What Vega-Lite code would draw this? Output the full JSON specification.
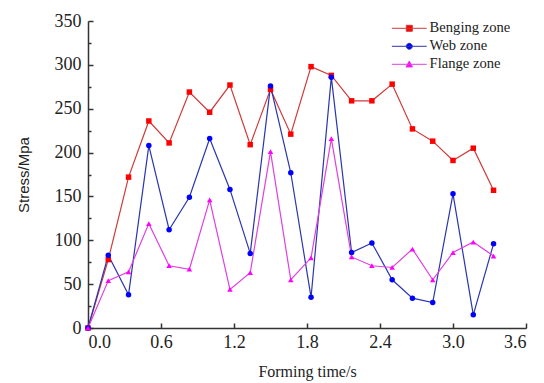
{
  "$schema": "https://vega.github.io/schema/vega-lite/v6.json",
  "autosize": "none",
  "width": 438,
  "height": 307,
  "padding": {"left": 88, "top": 21, "right": 18, "bottom": 55},
  "background": "white",
  "config": {
    "view": {"stroke": null},
    "font": "Liberation Serif",
    "axis": {
      "domainColor": "#333333",
      "domainWidth": 1.5,
      "tickColor": "#333333",
      "tickWidth": 1.5,
      "labelFont": "Liberation Serif",
      "labelFontSize": 18,
      "labelColor": "#222222",
      "titleFont": "Liberation Serif",
      "titleFontSize": 16,
      "titleFontWeight": "normal",
      "titleColor": "#222222",
      "grid": false
    }
  },
  "data": {
    "values": [
      {"t": 0, "zone": "Benging zone", "stress": 0},
      {"t": 0.1667, "zone": "Benging zone", "stress": 78},
      {"t": 0.3333, "zone": "Benging zone", "stress": 172},
      {"t": 0.5, "zone": "Benging zone", "stress": 236},
      {"t": 0.6667, "zone": "Benging zone", "stress": 211},
      {"t": 0.8333, "zone": "Benging zone", "stress": 269},
      {"t": 1.0, "zone": "Benging zone", "stress": 246},
      {"t": 1.1667, "zone": "Benging zone", "stress": 277},
      {"t": 1.3333, "zone": "Benging zone", "stress": 209},
      {"t": 1.5, "zone": "Benging zone", "stress": 272},
      {"t": 1.6667, "zone": "Benging zone", "stress": 221},
      {"t": 1.8333, "zone": "Benging zone", "stress": 298},
      {"t": 2.0, "zone": "Benging zone", "stress": 288},
      {"t": 2.1667, "zone": "Benging zone", "stress": 259},
      {"t": 2.3333, "zone": "Benging zone", "stress": 259},
      {"t": 2.5, "zone": "Benging zone", "stress": 278},
      {"t": 2.6667, "zone": "Benging zone", "stress": 227},
      {"t": 2.8333, "zone": "Benging zone", "stress": 213},
      {"t": 3.0, "zone": "Benging zone", "stress": 191},
      {"t": 3.1667, "zone": "Benging zone", "stress": 205},
      {"t": 3.3333, "zone": "Benging zone", "stress": 157},
      {"t": 0, "zone": "Web zone", "stress": 0},
      {"t": 0.1667, "zone": "Web zone", "stress": 83},
      {"t": 0.3333, "zone": "Web zone", "stress": 38},
      {"t": 0.5, "zone": "Web zone", "stress": 208},
      {"t": 0.6667, "zone": "Web zone", "stress": 112},
      {"t": 0.8333, "zone": "Web zone", "stress": 149},
      {"t": 1.0, "zone": "Web zone", "stress": 216},
      {"t": 1.1667, "zone": "Web zone", "stress": 158},
      {"t": 1.3333, "zone": "Web zone", "stress": 85},
      {"t": 1.5, "zone": "Web zone", "stress": 276},
      {"t": 1.6667, "zone": "Web zone", "stress": 177},
      {"t": 1.8333, "zone": "Web zone", "stress": 35},
      {"t": 2.0, "zone": "Web zone", "stress": 286},
      {"t": 2.1667, "zone": "Web zone", "stress": 86},
      {"t": 2.3333, "zone": "Web zone", "stress": 97},
      {"t": 2.5, "zone": "Web zone", "stress": 55},
      {"t": 2.6667, "zone": "Web zone", "stress": 34},
      {"t": 2.8333, "zone": "Web zone", "stress": 29},
      {"t": 3.0, "zone": "Web zone", "stress": 153},
      {"t": 3.1667, "zone": "Web zone", "stress": 15},
      {"t": 3.3333, "zone": "Web zone", "stress": 96},
      {"t": 0, "zone": "Flange zone", "stress": 0},
      {"t": 0.1667, "zone": "Flange zone", "stress": 54},
      {"t": 0.3333, "zone": "Flange zone", "stress": 64},
      {"t": 0.5, "zone": "Flange zone", "stress": 119},
      {"t": 0.6667, "zone": "Flange zone", "stress": 71},
      {"t": 0.8333, "zone": "Flange zone", "stress": 67},
      {"t": 1.0, "zone": "Flange zone", "stress": 146},
      {"t": 1.1667, "zone": "Flange zone", "stress": 44},
      {"t": 1.3333, "zone": "Flange zone", "stress": 63},
      {"t": 1.5, "zone": "Flange zone", "stress": 201},
      {"t": 1.6667, "zone": "Flange zone", "stress": 55},
      {"t": 1.8333, "zone": "Flange zone", "stress": 80},
      {"t": 2.0, "zone": "Flange zone", "stress": 216},
      {"t": 2.1667, "zone": "Flange zone", "stress": 81},
      {"t": 2.3333, "zone": "Flange zone", "stress": 71},
      {"t": 2.5, "zone": "Flange zone", "stress": 69},
      {"t": 2.6667, "zone": "Flange zone", "stress": 90},
      {"t": 2.8333, "zone": "Flange zone", "stress": 55},
      {"t": 3.0, "zone": "Flange zone", "stress": 86},
      {"t": 3.1667, "zone": "Flange zone", "stress": 98},
      {"t": 3.3333, "zone": "Flange zone", "stress": 82}
    ]
  },
  "layer": [
    {
      "mark": {"type": "line", "strokeWidth": 1.2},
      "encoding": {
        "x": {
          "field": "t", "type": "quantitative",
          "scale": {"domain": [0, 3.6], "nice": false, "zero": false},
          "axis": {
            "values": [0, 0.6, 1.2, 1.8, 2.4, 3.0, 3.6],
            "format": ".1f",
            "tickSize": -5,
            "labelPadding": 10,
            "labelFont": "Liberation Serif",
            "title": "Forming time/s",
            "titlePadding": 12
          }
        },
        "y": {
          "field": "stress", "type": "quantitative",
          "scale": {"domain": [0, 350], "nice": false},
          "axis": {
            "orient": "left",
            "values": [0, 50, 100, 150, 200, 250, 300, 350],
            "tickSize": -5,
            "labelPadding": 12,
            "labelFont": "Liberation Serif",
            "title": "Stress/Mpa",
            "titleFont": "Liberation Sans",
            "titleFontSize": 15,
            "titlePadding": 23
          }
        },
        "color": {
          "field": "zone", "type": "nominal",
          "scale": {"domain": ["Benging zone", "Web zone", "Flange zone"], "range": ["#d03a3a", "#2a35b0", "#e040e0"]},
          "legend": null
        },
        "order": {"field": "t", "type": "quantitative"}
      }
    },
    {
      "mark": {"type": "point", "filled": true, "opacity": 1},
      "encoding": {
        "x": {"field": "t", "type": "quantitative"},
        "y": {
          "field": "stress", "type": "quantitative",
          "axis": {
            "orient": "left",
            "values": [25, 75, 125, 175, 225, 275, 325],
            "labels": false,
            "domain": false,
            "tickSize": -3,
            "title": null
          }
        },
        "color": {
          "field": "zone", "type": "nominal",
          "scale": {"domain": ["Benging zone", "Web zone", "Flange zone"], "range": ["#ff0000", "#0000ff", "#ff00ff"]},
          "legend": null
        },
        "shape": {
          "field": "zone", "type": "nominal",
          "scale": {"domain": ["Benging zone", "Web zone", "Flange zone"], "range": ["square", "circle", "triangle-up"]},
          "legend": null
        },
        "size": {"value": 30}
      }
    },
    {
      "transform": [{"filter": "datum.t < 0"}],
      "mark": {"type": "point", "filled": true, "opacity": 1, "strokeWidth": 1},
      "encoding": {
        "x": {"field": "t", "type": "quantitative"},
        "y": {"field": "stress", "type": "quantitative", "axis": null},
        "fill": {
          "field": "zone", "type": "nominal",
          "scale": {"domain": ["Benging zone", "Web zone", "Flange zone"], "range": ["#ff0000", "#0000ff", "#ff00ff"]},
          "legend": {
            "title": null,
            "orient": "none",
            "legendX": 314,
            "legendY": 0,
            "padding": 0,
            "symbolSize": 36,
            "symbolStrokeWidth": 1,
            "labelOffset": 13,
            "labelFont": "Liberation Serif",
            "labelFontSize": 14.6,
            "labelColor": "#222222",
            "rowPadding": 3
          }
        },
        "stroke": {
          "field": "zone", "type": "nominal",
          "scale": {"domain": ["Benging zone", "Web zone", "Flange zone"], "range": ["#d03a3a", "#2a35b0", "#e040e0"]},
          "legend": {
            "title": null,
            "orient": "none",
            "legendX": 314,
            "legendY": 0,
            "padding": 0,
            "symbolSize": 36,
            "symbolStrokeWidth": 1,
            "labelOffset": 13,
            "labelFont": "Liberation Serif",
            "labelFontSize": 14.6,
            "labelColor": "#222222",
            "rowPadding": 3
          }
        },
        "shape": {
          "field": "zone", "type": "nominal",
          "scale": {"domain": ["Benging zone", "Web zone", "Flange zone"], "range": ["M-5.8,0H5.8M-1,-1H1V1H-1Z", "M-5.8,0H5.8M-1,0A1,1 0 1,0 1,0A1,1 0 1,0 -1,0Z", "M-5.8,0H5.8M0,-1.1L1.1,0.9H-1.1Z"]},
          "legend": {
            "title": null,
            "orient": "none",
            "legendX": 314,
            "legendY": 0,
            "padding": 0,
            "symbolSize": 36,
            "symbolStrokeWidth": 1,
            "labelOffset": 13,
            "labelFont": "Liberation Serif",
            "labelFontSize": 14.6,
            "labelColor": "#222222",
            "rowPadding": 3
          }
        }
      }
    }
  ],
  "resolve": {
    "scale": {"color": "independent", "shape": "independent", "fill": "independent", "stroke": "independent"},
    "axis": {"y": "independent"}
  }
}
